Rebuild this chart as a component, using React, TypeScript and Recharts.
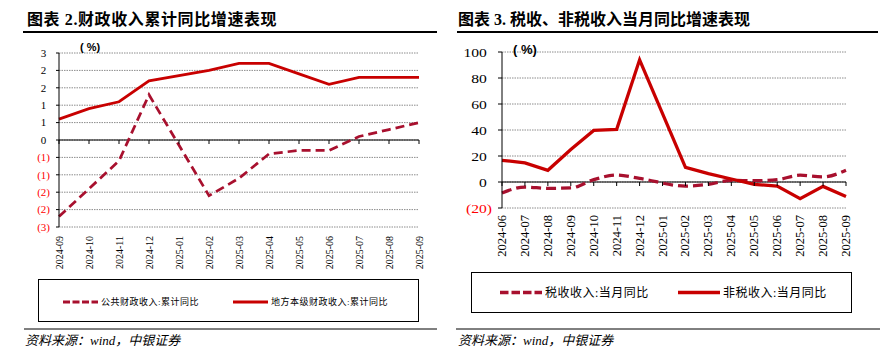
import React from 'react';
import { LineChart, Line, XAxis, YAxis, CartesianGrid, ReferenceLine, ReferenceDot } from 'recharts';

// ---- Left chart data (图表 2) ----
const leftCategories = ['2024-09', '2024-10', '2024-11', '2024-12', '2025-01', '2025-02', '2025-03', '2025-04', '2025-05', '2025-06', '2025-07', '2025-08', '2025-09'];
const publicRevenueYoY = [-2.2, -1.4, -0.6, 1.3, null, -1.6, -1.1, -0.4, -0.3, -0.3, 0.1, 0.3, 0.5];
const localRevenueYoY = [0.6, 0.9, 1.1, 1.7, null, 2.0, 2.2, 2.2, 1.9, 1.6, 1.8, 1.8, 1.8];
const leftTicks = [-2.5, -2, -1.5, -1, -0.5, 0, 0.5, 1, 1.5, 2, 2.5];

// ---- Right chart data (图表 3) ----
const rightCategories = ['2024-06', '2024-07', '2024-08', '2024-09', '2024-10', '2024-11', '2024-12', '2025-01', '2025-02', '2025-03', '2025-04', '2025-05', '2025-06', '2025-07', '2025-08', '2025-09'];
const taxYoY = [-8.5, -3.9, -4.9, -4.6, 1.8, 5.4, 2.8, null, -3.1, -1.8, 1.3, 1.0, 1.8, 5.2, 3.9, 9.0];
const nonTaxYoY = [16.7, 14.7, 9.0, 25.0, 39.7, 40.5, 94.0, null, 11.3, 6.4, 2.3, -1.8, -3.1, -12.9, -3.4, -11.1];
const rightTicks = [-20, 0, 20, 40, 60, 80, 100];

const leftData = leftCategories.map((c, i) => ({ month: c, pub: publicRevenueYoY[i], local: localRevenueYoY[i] }));
const rightData = rightCategories.map((c, i) => ({ month: c, tax: taxYoY[i], nontax: nonTaxYoY[i] }));

const SOLID = '#C80000';
const DASHED = '#A8102E';
const SERIF = '"Liberation Serif", "Times New Roman", serif';
const CJK = '"Liberation Serif", "Noto Sans CJK SC", serif';

const makeYTick = (fontSize: number, scaleX: number) => (props: any) => {
  const { x, y, payload } = props;
  const v = payload.value as number;
  const neg = v < -1e-9;
  const r = Math.round(Math.abs(v));
  return (
    <text
      x={x}
      y={y}
      dy="0.35em"
      textAnchor="end"
      fontFamily={SERIF}
      fontSize={fontSize}
      fill={neg ? '#FF0000' : '#000'}
      transform={`translate(${x},0) scale(${scaleX},1) translate(${-x},0)`}
    >
      {neg ? `(${r})` : (
        <>
          {r}
          <tspan fill="none">)</tspan>
        </>
      )}
    </text>
  );
};

const makeXTick = (fontSize: number) => (props: any) => {
  const { x, y, payload } = props;
  return (
    <text
      x={x}
      y={y}
      transform={`rotate(-90, ${x}, ${y})`}
      textAnchor="end"
      dominantBaseline="central"
      fontFamily={SERIF}
      fontSize={fontSize}
      fill="#000"
    >
      {payload.value}
    </text>
  );
};

const tickMark = (p: any) => (
  <line x1={p.cx} y1={p.cy} x2={p.cx} y2={p.cy + 4} stroke="#000" strokeWidth={1} />
);

const abs = (o: React.CSSProperties): React.CSSProperties => ({ position: 'absolute', ...o });

export default function App() {
  return (
    <div style={abs({ left: 0, top: 0, width: 887, height: 356, background: '#fff', overflow: 'hidden' })}>
      {/* Titles */}
      <div style={abs({ left: 27, top: 10, fontFamily: CJK, fontWeight: 'bold', fontSize: 16, lineHeight: '20px', letterSpacing: 0.6, whiteSpace: 'nowrap' })}>
        图表 2.财政收入累计同比增速表现
      </div>
      <div style={abs({ left: 458, top: 10, fontFamily: CJK, fontWeight: 'bold', fontSize: 16, lineHeight: '20px', whiteSpace: 'nowrap' })}>
        图表 3. 税收、非税收入当月同比增速表现
      </div>
      <div style={abs({ left: 23, top: 31, width: 414, height: 2, background: '#000' })} />
      <div style={abs({ left: 457, top: 31, width: 421, height: 2, background: '#000' })} />

      {/* Left chart */}
      <div style={abs({ left: 0, top: 0 })}>
        <LineChart width={440} height={280} data={leftData} margin={{ top: 53, right: 21, bottom: 0, left: 9 }}>
          <CartesianGrid horizontal vertical={false} stroke="#8c8c8c" strokeDasharray="1.5 1" />
          <XAxis
            dataKey="month"
            scale="point"
            padding={{ left: 0, right: 0 }}
            interval={0}
            height={53}
            axisLine={false}
            tickLine={false}
            tickSize={0}
            tickMargin={9}
            tick={makeXTick(10)}
          />
          <YAxis
            width={50}
            domain={[-2.5, 2.5]}
            ticks={leftTicks}
            interval={0}
            axisLine={{ stroke: '#000' }}
            tickLine={{ stroke: '#000' }}
            tickSize={3}
            tickMargin={6}
            tick={makeYTick(11, 1)}
          />
          <ReferenceLine y={0} stroke="#000" strokeWidth={1} />
          {leftCategories.map((c) => (
            <ReferenceDot key={c} x={c} y={0} r={0} shape={tickMark} />
          ))}
          <Line dataKey="pub" stroke={DASHED} strokeWidth={2.75} strokeDasharray="9 5" dot={false} connectNulls isAnimationActive={false} />
          <Line dataKey="local" stroke={SOLID} strokeWidth={2.75} dot={false} connectNulls isAnimationActive={false} />
        </LineChart>
      </div>
      <div style={abs({ left: 80, top: 40, fontFamily: '"Liberation Sans", Arial, sans-serif', fontWeight: 'bold', fontSize: 11, lineHeight: '14px', whiteSpace: 'pre' })}>( %)</div>

      {/* Right chart */}
      <div style={abs({ left: 440, top: 0 })}>
        <LineChart width={447} height={260} data={rightData} margin={{ top: 52, right: 41, bottom: 0, left: 12 }}>
          <CartesianGrid horizontal vertical={false} stroke="#8c8c8c" strokeDasharray="1.5 1" />
          <XAxis
            dataKey="month"
            scale="point"
            padding={{ left: 0, right: 0 }}
            interval={0}
            height={52}
            axisLine={false}
            tickLine={false}
            tickSize={0}
            tickMargin={7}
            tick={makeXTick(12.5)}
          />
          <YAxis
            width={50}
            domain={[-20, 100]}
            ticks={rightTicks}
            interval={0}
            axisLine={{ stroke: '#000' }}
            tickLine={{ stroke: '#000' }}
            tickSize={4}
            tickMargin={6}
            tick={makeYTick(13, 1.2)}
          />
          <ReferenceLine y={0} stroke="#000" strokeWidth={1} />
          {rightCategories.map((c) => (
            <ReferenceDot key={c} x={c} y={0} r={0} shape={tickMark} />
          ))}
          <Line dataKey="tax" type="monotone" stroke={DASHED} strokeWidth={3.25} strokeDasharray="10 5" dot={false} connectNulls isAnimationActive={false} />
          <Line dataKey="nontax" stroke={SOLID} strokeWidth={3.25} dot={false} connectNulls isAnimationActive={false} />
        </LineChart>
      </div>
      <div style={abs({ left: 513, top: 42, fontFamily: '"Liberation Sans", Arial, sans-serif', fontWeight: 'bold', fontSize: 13, lineHeight: '16px', whiteSpace: 'pre' })}>( %)</div>

      {/* Legend boxes */}
      <div style={abs({ left: 38, top: 279, width: 381, height: 43, border: '1.5px solid #000', boxSizing: 'border-box' })} />
      <div style={abs({ left: 471, top: 272, width: 381, height: 41, border: '1.5px solid #000', boxSizing: 'border-box' })} />
      <svg width={887} height={356} style={abs({ left: 0, top: 0, pointerEvents: 'none' })}>
        <line x1={63} y1={302} x2={98} y2={302} stroke={DASHED} strokeWidth={3} strokeDasharray="7 2.5" />
        <line x1={233} y1={302} x2={268} y2={302} stroke={SOLID} strokeWidth={3} />
        <line x1={500} y1={292.5} x2={542} y2={292.5} stroke={DASHED} strokeWidth={3.5} strokeDasharray="8.5 3" />
        <line x1={678} y1={292.5} x2={720} y2={292.5} stroke={SOLID} strokeWidth={3.5} />
        <line x1={24} y1={329} x2={437} y2={329} stroke="#000" strokeWidth={1} />
        <line x1={456} y1={329} x2={880} y2={329} stroke="#000" strokeWidth={1} />
      </svg>
      <div style={abs({ left: 101, top: 295, fontFamily: CJK, fontSize: 9, lineHeight: '14px', letterSpacing: 0.5, whiteSpace: 'nowrap' })}>公共财政收入:累计同比</div>
      <div style={abs({ left: 271, top: 295, fontFamily: CJK, fontSize: 9, lineHeight: '14px', letterSpacing: 0.5, whiteSpace: 'nowrap' })}>地方本级财政收入:累计同比</div>
      <div style={abs({ left: 545, top: 284.5, fontFamily: CJK, fontSize: 12, lineHeight: '16px', letterSpacing: 0.5, whiteSpace: 'nowrap' })}>税收收入:当月同比</div>
      <div style={abs({ left: 723, top: 284.5, fontFamily: CJK, fontSize: 12, lineHeight: '16px', letterSpacing: 0.5, whiteSpace: 'nowrap' })}>非税收入:当月同比</div>

      {/* Sources */}
      <div style={abs({ left: 25, top: 332, fontFamily: CJK, fontStyle: 'italic', fontSize: 13, lineHeight: '18px', whiteSpace: 'nowrap' })}>资料来源：wind，中银证券</div>
      <div style={abs({ left: 458, top: 332, fontFamily: CJK, fontStyle: 'italic', fontSize: 13, lineHeight: '18px', whiteSpace: 'nowrap' })}>资料来源：wind，中银证券</div>
    </div>
  );
}
